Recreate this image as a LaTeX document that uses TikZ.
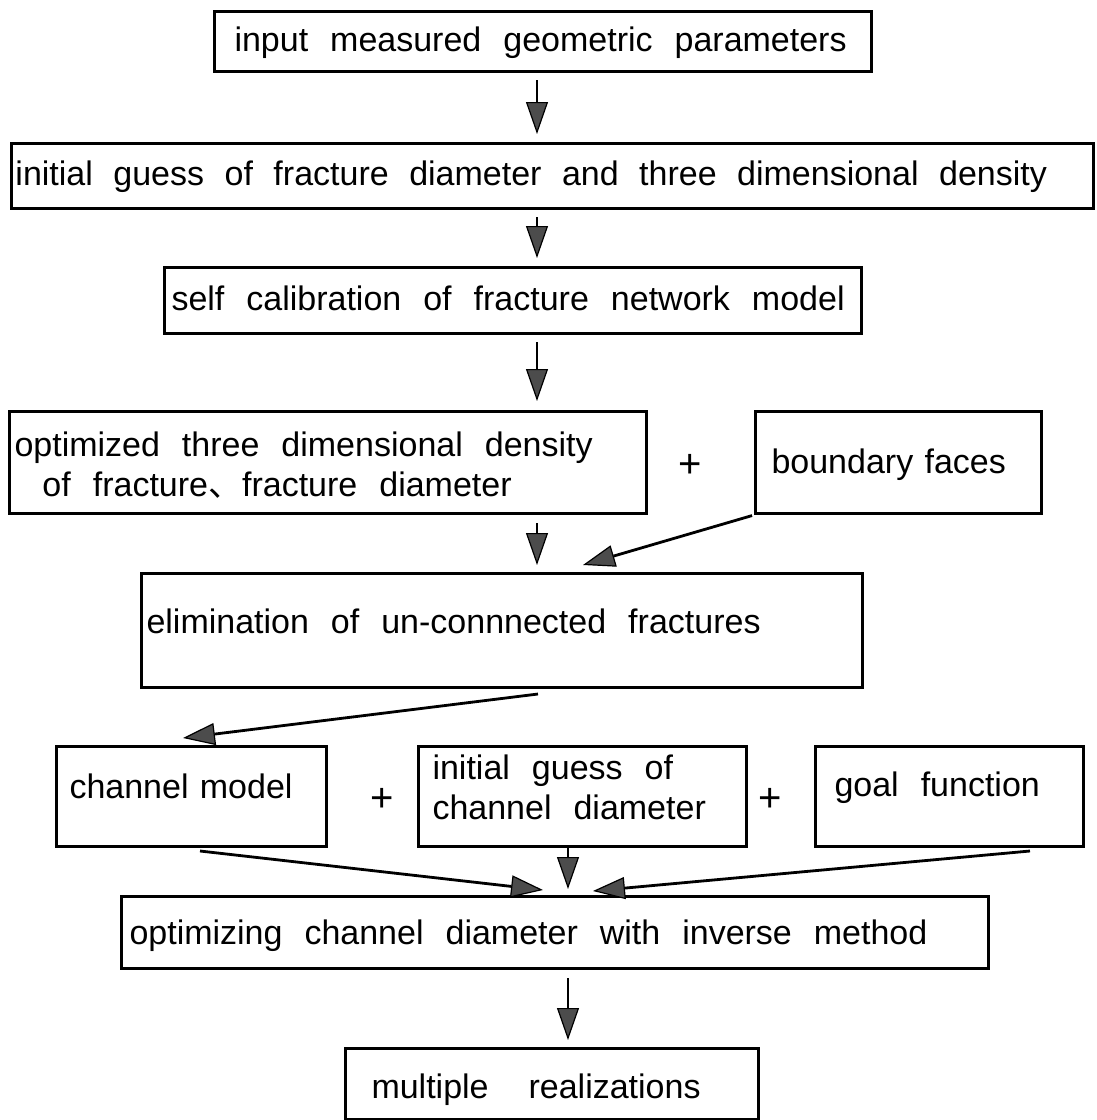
\documentclass[tikz,border=0pt]{standalone}
\usepackage{fontspec}
\setmainfont{Liberation Sans}
\newfontfamily\cjkfont{Noto Sans CJK SC}
\usetikzlibrary{arrows.meta}

% wide gaps between words, as in the box labels
\newcommand\widesp{\spaceskip=22pt plus 2pt minus 2pt\relax}
% a left-aligned label line of fixed width
\newcommand\lbl[2]{\makebox[#1][l]{\widesp #2}}

\tikzset{
  box/.style={draw, line width=3pt, anchor=north west, inner ysep=0pt, align=left,
              font=\fontsize{34}{40}\selectfont},
  plus/.style={inner sep=0pt, font=\fontsize{40}{44}\selectfont},
  arr/.style={line width=2.8pt,
              -{Triangle[length=32pt, width=22pt, fill=black!70, line width=1.2pt]}},
}

\begin{document}
\begin{tikzpicture}[x=1pt, y=-1pt]
\useasboundingbox (0,0) rectangle (1097,1120);

% columns of the vertical connectors
\coordinate (c1) at (537,0);
\coordinate (c2) at (568,0);

% process boxes
\node[box, inner xsep=20pt, text width=617pt, text height=40pt, text depth=20pt] (b1) at (213,10)
  {\lbl{617pt}{input measured geometric parameters}};
\node[box, inner xsep=4pt, text width=1074pt, text height=42pt, text depth=23pt] (b2) at (10,142)
  {\lbl{1074pt}{\spaceskip=20.5pt\relax initial guess of fracture diameter and three dimensional density}};
\node[box, inner xsep=7pt, text width=683pt, text height=43pt, text depth=23pt] (b3) at (163,266)
  {\lbl{683pt}{self calibration of fracture network model}};
\node[box, inner xsep=5pt, text width=627pt, text height=45pt, text depth=57pt] (b4) at (8,410)
  {\lbl{627pt}{\begin{tabular}[t]{@{}l@{}}\widesp optimized three dimensional density\\
   \widesp\hspace*{28pt}of fracture{\cjkfont 、}fracture diameter\end{tabular}}};
\node[plus] (p1) at (690,466) {+};
\node[box, inner xsep=16pt, text width=254pt, text height=62pt, text depth=40pt] (b5) at (754,410)
  {\makebox[254pt][l]{boundary faces}};
\node[box, inner xsep=5pt, text width=711pt, text height=60pt, text depth=54pt] (b6) at (140,572)
  {\lbl{711pt}{elimination of un-connnected fractures}};
\node[box, inner xsep=13pt, text width=244pt, text height=52pt, text depth=48pt] (b7) at (55,745)
  {\makebox[244pt][l]{channel model}};
\node[plus] (p2) at (382,800) {+};
\node[box, inner xsep=14pt, text width=300pt, text height=33pt, text depth=67pt] (b8) at (417,745)
  {\lbl{300pt}{\begin{tabular}[t]{@{}l@{}}\widesp initial guess of\\ \widesp channel diameter\end{tabular}}};
\node[plus] (p3) at (770,800) {+};
\node[box, inner xsep=19pt, text width=230pt, text height=50pt, text depth=50pt] (b9) at (814,745)
  {\lbl{230pt}{goal function}};
\node[box, inner xsep=8pt, text width=851pt, text height=48pt, text depth=24pt] (b10) at (120,895)
  {\lbl{851pt}{optimizing channel diameter with inverse method}};
\node[box, inner xsep=26pt, text width=361pt, text height=50pt, text depth=21pt] (b11) at (344,1047)
  {\lbl{361pt}{multiple\hspace{18pt} realizations}};

% connectors
\draw[arr, shorten <=7pt, shorten >=8pt] (b1.south -| c1) -- (b2.north -| c1);
\draw[arr, shorten <=7pt, shorten >=8pt] (b2.south -| c1) -- (b3.north -| c1);
\draw[arr, shorten <=7pt, shorten >=9pt] (b3.south -| c1) -- (b4.north -| c1);
\draw[arr, shorten <=8pt, shorten >=7pt] (b4.south -| c1) -- (b6.north -| c1);
\draw[arr, shorten <=2pt] (b5.south west) -- ([xshift=443pt, yshift=7pt]b6.north west);
\draw[arr] ([xshift=398pt, yshift=-5pt]b6.south west) -- ([xshift=128pt, yshift=7pt]b7.north west);
\draw[arr] ([xshift=145pt, yshift=-3pt]b7.south west) -- ([xshift=423pt, yshift=5pt]b10.north west);
\draw[arr, shorten >=6pt] (b8.south -| c2) -- (b10.north -| c2);
\draw[arr] ([xshift=216pt, yshift=-3pt]b9.south west) -- ([xshift=473pt, yshift=4pt]b10.north west);
\draw[arr, shorten <=8pt, shorten >=7pt] (b10.south -| c2) -- (b11.north -| c2);
\end{tikzpicture}
\end{document}
